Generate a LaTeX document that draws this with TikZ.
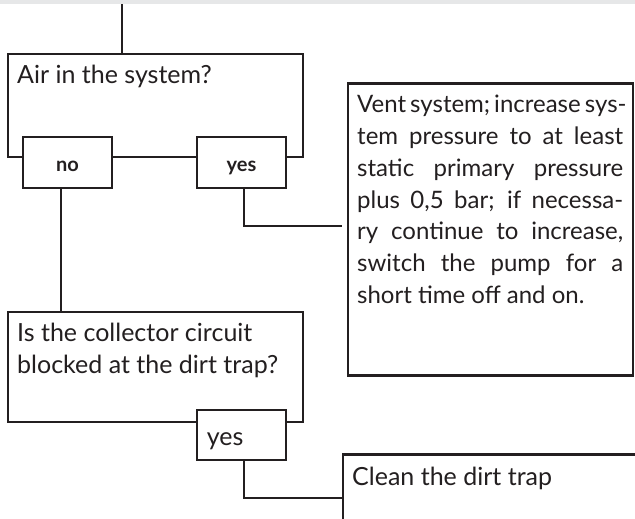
\documentclass[tikz,border=0pt]{standalone}
\usepackage{fontspec}
\setmainfont{Lato}
\definecolor{ink}{RGB}{35,31,32}
\definecolor{band}{RGB}{230,231,232}
\begin{document}
\begin{tikzpicture}[x=1pt,y=-1pt,
  box/.style={draw=ink, line width=2.9pt, fill=white, rectangle, inner sep=0pt, outer sep=0pt, anchor=north west},
  conn/.style={draw=ink, line width=2.9pt},
  txt/.style={text=ink, inner sep=0pt, anchor=base west, font=\fontsize{25}{31.7}\selectfont},
  para/.style={txt, font=\fontsize{24}{31.7}\selectfont},
  lbl/.style={text=ink, inner sep=0pt, anchor=base, font=\fontsize{20}{24}\selectfont\bfseries}]
\useasboundingbox (0,0) rectangle (635,519);
\clip (0,0) rectangle (635,519);
\fill[band] (0,0) rectangle (635,4.3);
\coordinate (top) at (122,4.3);
% boxes
\node[box, minimum width=295pt, minimum height=103pt] (q1) at (8,54) {};
\node[box, minimum width=89pt, minimum height=51pt] (no1) at (23,137) {};
\node[box, minimum width=89pt, minimum height=51pt] (yes1) at (197,137) {};
\node[box, minimum width=285pt, minimum height=292.5pt] (q3) at (348,83.3) {};
\node[box, minimum width=295pt, minimum height=110pt] (q2) at (8,312) {};
\node[box, minimum width=89pt, minimum height=50pt] (yes2) at (197,410) {};
\node[box, minimum width=320pt, minimum height=87pt] (q5) at (343,454.5) {};
% texts
\node[txt] (q1t) at (17,83.5) {Air in the system?};
\node[lbl] (no1t) at (67.5,171.7) {no};
\node[lbl] (yes1t) at (241.5,171.7) {yes};
\node[para] (q3t) at (357,113) {\parbox[t]{266pt}{%
\makebox[266pt][s]{Vent system;\,increase sys-}\\
\makebox[266pt][s]{tem pressure to at least}\\
\makebox[266pt][s]{static primary pressure}\\
\makebox[266pt][s]{plus 0,5 bar; if necessa-}\\
\makebox[266pt][s]{ry continue to increase,}\\
\makebox[266pt][s]{switch the pump for a}\\
short time off and on.}};
\node[txt] (q2t) at (17,341.7) {\parbox[t]{280pt}{Is the collector circuit\\blocked at the dirt trap?}};
\node[txt] (yes2t) at (206.7,445) {yes};
\node[txt] (q5t) at (352,485) {Clean the dirt trap};
% connectors
\coordinate (g1) at (342,226);
\draw[conn] (top) -- (top |- q1.north);
\draw[conn] ([xshift=38pt]no1.south west) -- ([xshift=38pt]no1.south west |- q2.north);
\draw[conn] ([xshift=47pt]yes1.south west) |- (g1);
\draw[conn] ([xshift=47pt]yes2.south west) |- (q5.west);
\end{tikzpicture}
\end{document}
